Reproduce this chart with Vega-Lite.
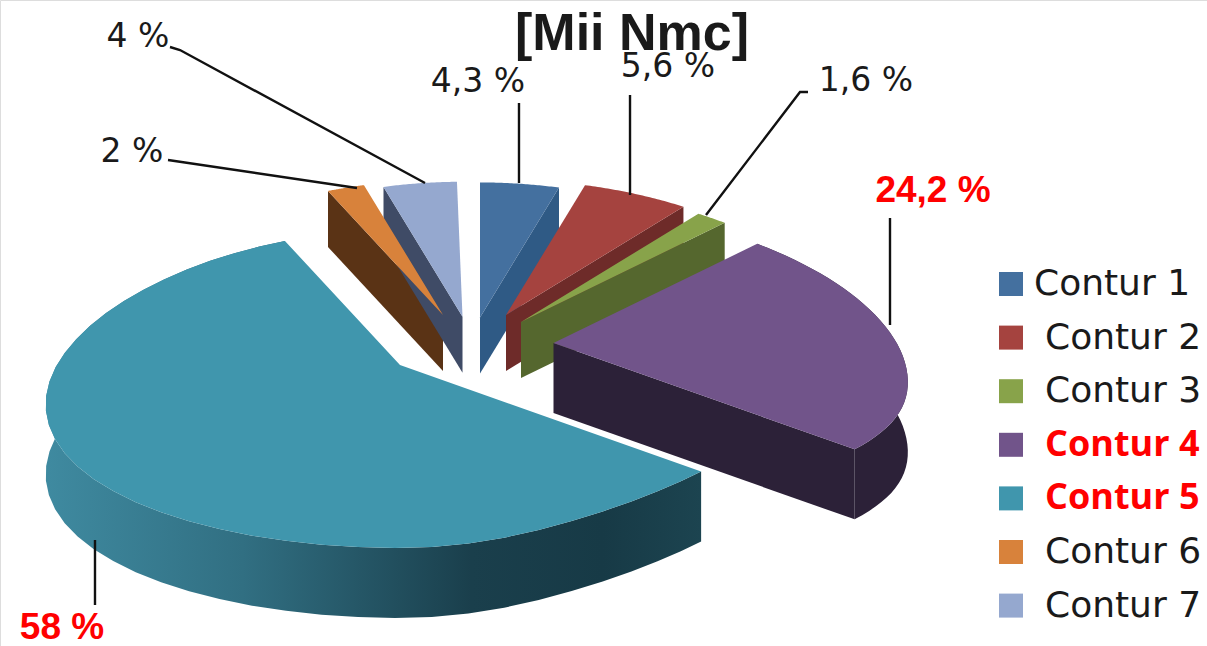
{
"$schema":"https://vega.github.io/schema/vega-lite/v6.json",
"width":1207,"height":646,"padding":0,"autosize":"none","background":"white",
"title":{"text":"[Mii Nmc]","frame":"group","anchor":"start","dx":515,"dy":102,"fontSize":52,"fontWeight":"bold","font":"Liberation Sans","color":"#1a1a1a","baseline":"alphabetic","offset":0},
"data":{"values":[
{"contur":"Contur 1","value":4.3,"label":"4,3 %"},
{"contur":"Contur 2","value":5.6,"label":"5,6 %"},
{"contur":"Contur 3","value":1.6,"label":"1,6 %"},
{"contur":"Contur 4","value":24.2,"label":"24,2 %"},
{"contur":"Contur 5","value":58,"label":"58 %"},
{"contur":"Contur 6","value":2,"label":"2 %"},
{"contur":"Contur 7","value":4,"label":"4 %"}
]},
"transform":[
{"window":[{"op":"sum","field":"value","as":"end"},{"op":"row_number","as":"n"}]},
{"calculate":"datum.n-1","as":"i"},
{"calculate":"(datum.end-datum.value)/100*2*PI","as":"a0"},
{"calculate":"datum.end/100*2*PI","as":"a1"},
{"calculate":"[0.1,0.1743,0.2171,0.31,-0.1286,-0.0057,0.05][datum.i]","as":"ax"},
{"calculate":"[0.093,0.1,0.08,0.02,-0.0429,0.1,0.095][datum.i]","as":"ay"},
{"calculate":"datum.i==3?0.2:0.16","as":"depth"}
],
"resolve":{"scale":{"fill":"independent"}},
"encoding":{
"x":{"field":"x","type":"quantitative","scale":{"domain":[-1.2714,2.1771],"nice":false,"zero":false},"axis":null},
"y":{"field":"y","type":"quantitative","scale":{"domain":[-0.8457,1],"nice":false,"zero":false},"axis":null}
},
"layer":[
{
"transform":[
{"filter":"datum.i!=4"},
{"calculate":"datum.i<4?datum.a1:datum.a0","as":"t"},
{"calculate":"(datum.t>PI/2&&datum.t<PI)?1-0.1*sin(2*datum.t)*sin(2*datum.t):1","as":"q"},
{"calculate":"[0,1,2,3]","as":"k"},
{"flatten":["k"]},
{"calculate":"(datum.k==0||datum.k==3)?datum.ax:datum.ax+sin(datum.t)*(1-0.16*cos(datum.t))","as":"x"},
{"calculate":"((datum.k==0||datum.k==3)?datum.ay:datum.ay+datum.q*(-0.0429+0.4543*cos(datum.t)-0.0257*cos(datum.t)*cos(datum.t)))-(datum.k>=2?datum.depth:0)","as":"y"}
],
"mark":{"type":"line","interpolate":"linear-closed","strokeWidth":0},
"encoding":{
"order":{"field":"k","type":"quantitative"},
"fill":{"field":"contur","type":"nominal","legend":null,"scale":{"domain":["Contur 1","Contur 2","Contur 3","Contur 4","Contur 6","Contur 7"],"range":["#2f5a85","#6e2b29","#55672e","#2c2138","#5a3315","#3f4b66"]}}
}
},
{
"transform":[
{"filter":"datum.i==3"},
{"calculate":"sequence(0,82)","as":"k"},
{"flatten":["k"]},
{"calculate":"datum.a0+(datum.a1-datum.a0)*(datum.k<=40?datum.k/40:(81-datum.k)/40)","as":"t"},
{"calculate":"(datum.t>PI/2&&datum.t<PI)?1-0.1*sin(2*datum.t)*sin(2*datum.t):1","as":"q"},
{"calculate":"datum.ax+sin(datum.t)*(1-0.16*cos(datum.t))","as":"x"},
{"calculate":"datum.ay+datum.q*(-0.0429+0.4543*cos(datum.t)-0.0257*cos(datum.t)*cos(datum.t))-(datum.k>40?0.2:0)","as":"y"}
],
"mark":{"type":"line","interpolate":"linear-closed","strokeWidth":0,"fill":"#2c2138"},
"encoding":{"order":{"field":"k","type":"quantitative"}}
},
{
"transform":[
{"filter":"datum.i==4"},
{"calculate":"sequence(0,82)","as":"k"},
{"flatten":["k"]},
{"calculate":"datum.a0+(datum.a1-datum.a0)*(datum.k<=40?datum.k/40:(81-datum.k)/40)","as":"t"},
{"calculate":"(datum.t>PI/2&&datum.t<PI)?1-0.1*sin(2*datum.t)*sin(2*datum.t):1","as":"q"},
{"calculate":"datum.ax+sin(datum.t)*(1-0.16*cos(datum.t))","as":"x"},
{"calculate":"datum.ay+datum.q*(-0.0429+0.4543*cos(datum.t)-0.0257*cos(datum.t)*cos(datum.t))-(datum.k>40?0.2:0)","as":"y"}
],
"mark":{"type":"line","interpolate":"linear-closed","strokeWidth":0,
"fill":{"gradient":"linear","x1":0,"y1":0,"x2":1,"y2":0,"stops":[{"offset":0,"color":"#3f8aa0"},{"offset":0.3,"color":"#316f82"},{"offset":0.65,"color":"#1a3f4c"},{"offset":0.85,"color":"#173a46"},{"offset":1,"color":"#1c4450"}]}},
"encoding":{"order":{"field":"k","type":"quantitative"}}
},
{
"transform":[
{"calculate":"sequence(0,42)","as":"k"},
{"flatten":["k"]},
{"calculate":"datum.a0+(datum.a1-datum.a0)*(datum.k-1)/40","as":"t"},
{"calculate":"(datum.t>PI/2&&datum.t<PI)?1-0.1*sin(2*datum.t)*sin(2*datum.t):1","as":"q"},
{"calculate":"datum.k==0?datum.ax:datum.ax+sin(datum.t)*(1-0.16*cos(datum.t))","as":"x"},
{"calculate":"datum.k==0?datum.ay:datum.ay+datum.q*(-0.0429+0.4543*cos(datum.t)-0.0257*cos(datum.t)*cos(datum.t))","as":"y"}
],
"mark":{"type":"line","interpolate":"linear-closed","strokeWidth":0},
"encoding":{
"order":{"field":"k","type":"quantitative"},
"fill":{"field":"contur","type":"nominal","scale":{"domain":["Contur 1","Contur 2","Contur 3","Contur 4","Contur 5","Contur 6","Contur 7"],"range":["#44709f","#a5433f","#88a34a","#71548a","#4096ad","#d8823b","#95a8cf"]},
"legend":{"title":null,"orient":"none","legendX":993,"legendY":266,"symbolType":"square","symbolSize":576,"symbolStrokeWidth":0,"labelFont":"DejaVu Sans","labelFontSize":36,"labelColor":"#1a1a1a","labelLimit":300,"rowPadding":17.6,"labelOffset":10,
"encoding":{"labels":{
"fill":{"condition":{"test":"datum.value=='Contur 4'||datum.value=='Contur 5'","value":"#ff0000"},"value":"#1a1a1a"},
"fontWeight":{"condition":{"test":"datum.value=='Contur 4'||datum.value=='Contur 5'","value":"bold"},"value":"normal"},
"font":{"condition":{"test":"datum.value=='Contur 4'||datum.value=='Contur 5'","value":"Open Sans"},"value":"DejaVu Sans"},
"dx":{"condition":{"test":"datum.value=='Contur 1'","value":-5},"value":6}
}}}}
}
},
{
"transform":[
{"calculate":"[[[0.2114,0.4771],[0.2114,0.7057]],[[0.5286,0.4429],[0.5286,0.7286]],[[0.7457,0.3857],[1.0143,0.7371],[1.0371,0.7371]],[[1.2714,0.0714],[1.2714,0.3771]],[[-1,-0.5429],[-1,-0.7286]],[[-0.2514,0.4629],[-0.7914,0.5429]],[[-0.0571,0.4771],[-0.7571,0.8571],[-0.7857,0.8657]]][datum.i]","as":"p"},
{"flatten":["p"]},
{"window":[{"op":"row_number","as":"k"}],"groupby":["contur"]},
{"calculate":"datum.p[0]","as":"x"},
{"calculate":"datum.p[1]","as":"y"}
],
"mark":{"type":"line","color":"#111111","strokeWidth":2.4},
"encoding":{
"detail":{"field":"contur"},
"order":{"field":"k","type":"quantitative"}
}
},
{
"transform":[
{"filter":"datum.value<20"},
{"calculate":"[0.0943,0.6371,1.2029,1.3943,-1.0943,-0.8943,-0.8771][datum.i]","as":"x"},
{"calculate":"[0.7657,0.8086,0.7686,0.4543,-0.7943,0.5657,0.8943][datum.i]","as":"y"}
],
"mark":{"type":"text","font":"DejaVu Sans","fontSize":33,"color":"#1a1a1a","align":"center","baseline":"middle"},
"encoding":{"text":{"field":"label"}}
},
{
"transform":[
{"filter":"datum.value>=20"},
{"calculate":"[0.0943,0.6371,1.2029,1.3943,-1.0943,-0.8943,-0.8771][datum.i]","as":"x"},
{"calculate":"[0.7657,0.8086,0.7686,0.4543,-0.7943,0.5657,0.8943][datum.i]","as":"y"}
],
"mark":{"type":"text","font":"Liberation Sans","fontSize":37,"fontWeight":"bold","color":"#ff0000","align":"center","baseline":"middle"},
"encoding":{"text":{"field":"label"}}
}
]
}
